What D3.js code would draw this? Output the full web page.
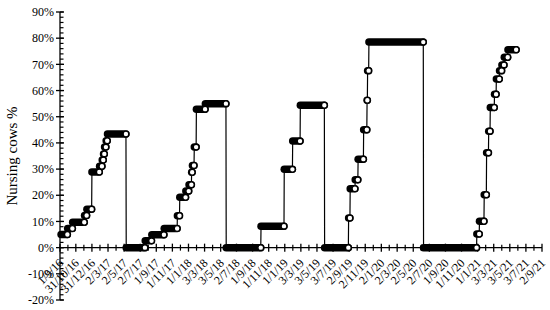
<!doctype html>
<meta charset="utf-8">
<style>
body { margin: 0; background: #fff; }
text { font-family: "Liberation Serif", "DejaVu Serif", serif; fill: #000; }
</style>
<body>
<div id="viz"></div>
<script src="https://cdn.jsdelivr.net/npm/d3@7"></script>
<script>
// first recorded day, then the last day of each constant run and its value (%)
var firstDay = "2016-09-05";
var runEnds = ["2016-09-29","2016-10-18","2016-12-02","2016-12-11","2016-12-30","2017-01-28",
  "2017-02-07","2017-02-12","2017-02-16","2017-02-22","2017-02-27","2017-05-09","2017-07-20",
  "2017-08-14","2017-09-30","2017-11-19","2017-11-28","2017-12-21","2018-01-02","2018-01-12",
  "2018-01-15","2018-01-22","2018-01-30","2018-03-05","2018-05-23","2018-10-02",
  "2018-12-29","2019-01-30","2019-02-28","2019-05-31","2019-08-30",
  "2019-09-05","2019-09-24","2019-10-05","2019-10-26","2019-11-08","2019-11-10","2019-11-15",
  "2020-06-09","2020-12-28",
  "2021-01-07","2021-01-25","2021-02-03","2021-02-11","2021-02-17","2021-03-05","2021-03-12",
  "2021-03-24","2021-04-02","2021-04-11","2021-04-25","2021-05-27"];
var runValues = [5, 7.3, 9.7, 12.3, 14.7, 28.9,
  31.1, 33.5, 35.8, 38.4, 40.8, 43.4, 0,
  2.6, 4.9, 7.3, 12.2, 19.2, 21.6, 24,
  28.8, 31.4, 38.4, 52.9, 55, 0,
  8.2, 29.9, 40.7, 54.4, 0,
  11.3, 22.5, 25.9, 33.8, 45, 56.3, 67.6,
  78.5, 0,
  5.2, 10.1, 20.2, 36.2, 44.5, 53.5, 58.6,
  64.4, 67.6, 69.8, 72.7, 75.6];
var tickLabels = ["1/9/16","31/10/16","31/12/16","2/3/17","2/5/17","2/7/17","1/9/17","1/11/17",
  "1/1/18","3/3/18","3/5/18","2/7/18","1/9/18","1/11/18","1/1/19","3/3/19","3/5/19","3/7/19",
  "2/9/19","2/11/19","2/1/20","2/3/20","2/5/20","2/7/20","1/9/20","1/11/20","1/1/21","3/3/21",
  "3/5/21","3/7/21","2/9/21"];
var yTicks = [-20, -10, 0, 10, 20, 30, 40, 50, 60, 70, 80, 90];

var width = 550, height = 310;
var parseIso = d3.timeParse("%Y-%m-%d");
var parseLbl = d3.timeParse("%d/%m/%y");
var tickDates = tickLabels.map(parseLbl);

var svg = d3.select("#viz").append("svg").attr("width", width).attr("height", height);

var x = d3.scaleTime().domain([tickDates[0], tickDates[tickDates.length - 1]]).range([60, 542]);
var y = d3.scaleLinear().domain([-20, 90]).range([300, 12]);

// build runs
var runs = [];
runEnds.forEach(function(e, i) {
  var end = parseIso(e);
  var start = i === 0 ? parseIso(firstDay) : d3.timeDay.offset(parseIso(runEnds[i - 1]), 1);
  runs.push({start: start, end: end, v: runValues[i]});
});

// y axis
var yAx = svg.append("g");
yAx.append("line").attr("x1", x.range()[0]).attr("x2", x.range()[0])
  .attr("y1", y(-20)).attr("y2", y(90)).attr("stroke", "#000").attr("stroke-width", 1.3);
yAx.selectAll(".minor").data(d3.range(-20, 90.1, 2)).enter().append("line")
  .attr("x1", 60).attr("x2", 63.5).attr("y1", function(d) { return y(d); }).attr("y2", function(d) { return y(d); })
  .attr("stroke", "#000").attr("stroke-width", 1.2);
yAx.selectAll(".major").data(yTicks).enter().append("line")
  .attr("x1", 56).attr("x2", 64).attr("y1", function(d) { return y(d); }).attr("y2", function(d) { return y(d); })
  .attr("stroke", "#000").attr("stroke-width", 1.3);
yAx.selectAll("text").data(yTicks).enter().append("text")
  .attr("x", 54).attr("y", function(d) { return y(d); }).attr("dy", "0.35em")
  .attr("text-anchor", "end").style("font-size", "12px").text(function(d) { return d + "%"; });

svg.append("text").attr("transform", "translate(17," + y(35) + ") rotate(-90)")
  .attr("text-anchor", "middle").style("font-size", "15px").text("Nursing cows %");

// x axis at 0
var xAx = svg.append("g");
var y0 = y(0);
xAx.append("line").attr("x1", x.range()[0]).attr("x2", x.range()[1])
  .attr("y1", y0).attr("y2", y0).attr("stroke", "#000").attr("stroke-width", 1.3);
var minorDates = d3.pairs(tickDates).map(function(p) { return new Date((+p[0] + +p[1]) / 2); });
xAx.selectAll(".minor").data(minorDates).enter().append("line")
  .attr("x1", function(d) { return x(d); }).attr("x2", function(d) { return x(d); })
  .attr("y1", y0 - 3).attr("y2", y0 + 3).attr("stroke", "#000").attr("stroke-width", 1.2);
xAx.selectAll(".major").data(tickDates).enter().append("line")
  .attr("x1", function(d) { return x(d); }).attr("x2", function(d) { return x(d); })
  .attr("y1", y0 - 4).attr("y2", y0 + 4).attr("stroke", "#000").attr("stroke-width", 1.3);
xAx.selectAll("text").data(tickLabels).enter().append("text")
  .attr("transform", function(d, i) { return "translate(" + (x(tickDates[i]) + 4) + "," + (y0 + 16) + ") rotate(-45)"; })
  .attr("text-anchor", "end").style("font-size", "12px").text(function(d) { return d; });

// series line through daily points
var pts = [];
runs.forEach(function(r) { pts.push([r.start, r.v]); pts.push([r.end, r.v]); });
var line = d3.line().x(function(d) { return x(d[0]); }).y(function(d) { return y(d[1]); });
svg.append("path").datum(pts).attr("d", line).attr("fill", "none")
  .attr("stroke", "#000").attr("stroke-width", 1.2);

// overlapping daily markers shown as solid bands
svg.selectAll(".band").data(runs).enter().append("line")
  .attr("x1", function(d) { return x(d.start); }).attr("x2", function(d) { return x(d.end) + 0.01; })
  .attr("y1", function(d) { return y(d.v); }).attr("y2", function(d) { return y(d.v); })
  .attr("stroke", "#000").attr("stroke-width", 7.5).attr("stroke-linecap", "round");

// last marker of each run
svg.selectAll(".mark").data(runs).enter().append("circle")
  .attr("cx", function(d) { return x(d.end); }).attr("cy", function(d) { return y(d.v); })
  .attr("r", 2.9).attr("fill", "#fff").attr("stroke", "#000").attr("stroke-width", 1.4);
</script>
</body>
</html>
